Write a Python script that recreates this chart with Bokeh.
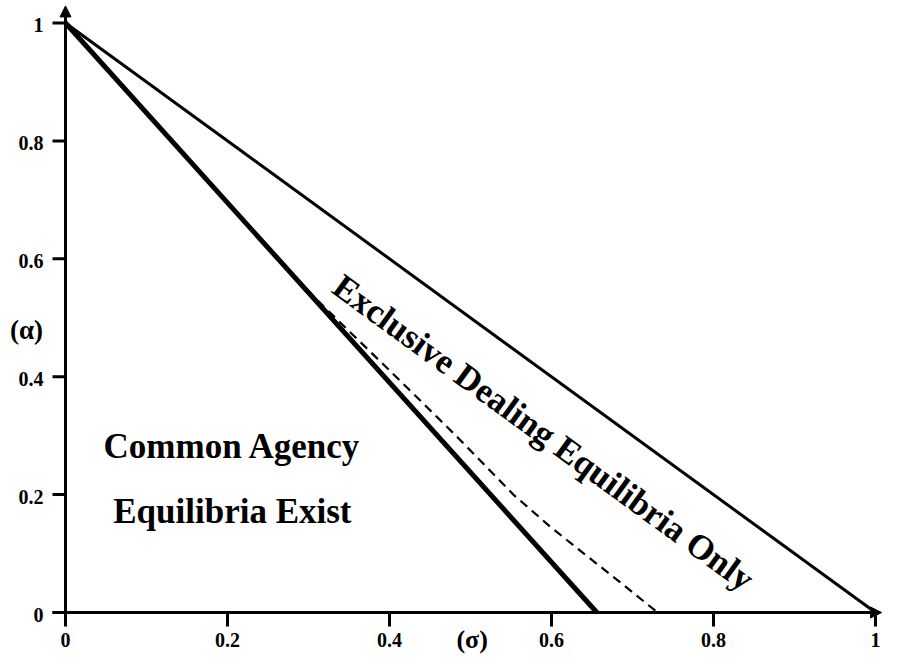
from bokeh.plotting import figure
from bokeh.models import Range1d, Arrow, NormalHead, ColumnDataSource
from bokeh.core.properties import value
from bokeh.embed import file_html
from bokeh.resources import INLINE

# ---- data ----
sigma_ticks = [0, 0.2, 0.4, 0.6, 0.8, 1]
sigma_tick_labels = ["0", "0.2", "0.4", "0.6", "0.8", "1"]
alpha_ticks = [0, 0.2, 0.4, 0.6, 0.8, 1]
alpha_tick_labels = ["0", "0.2", "0.4", "0.6", "0.8", "1"]

# upper boundary (thin line)
upper_sigma = [0, 1]
upper_alpha = [1, 0]
# lower boundary (thick line)
lower_sigma = [0, 0.656]
lower_alpha = [1, 0]
# dashed curve
dashed_alpha = [1, 0.8, 0.6, 0.527, 0.4, 0.3, 0.2, 0.146, 0.1, 0.05, 0]
dashed_sigma = [0, 0.131, 0.262, 0.313, 0.408, 0.482, 0.553, 0.598, 0.640, 0.686, 0.731]

FONT = value("Liberation Serif")

XS = 810.0  # px per unit on x
YS = 589.5  # px per unit on y

p = figure(width=883, height=655,
           x_range=Range1d(-0.08025, 1.00988), y_range=Range1d(-0.0729, 1.0382),
           output_backend="svg", toolbar_location=None, min_border=0,
           x_axis_type=None, y_axis_type=None, outline_line_color=None,
           background_fill_color="white", border_fill_color="white")

# curves
p.line(upper_sigma, upper_alpha, line_color="black", line_width=3)
p.line(lower_sigma, lower_alpha, line_color="black", line_width=5)
p.line(dashed_sigma, dashed_alpha, line_color="black", line_width=2.2, line_dash="9 6")

# axes (drawn manually)
tick_len_x = 14 / YS
tick_len_y = 13 / XS
p.segment(x0=sigma_ticks, y0=[0] * len(sigma_ticks), x1=sigma_ticks,
          y1=[-tick_len_x] * len(sigma_ticks), line_color="black", line_width=3)
p.segment(x0=[0] * len(alpha_ticks), y0=alpha_ticks, x1=[-tick_len_y] * len(alpha_ticks),
          y1=alpha_ticks, line_color="black", line_width=3)

p.add_layout(Arrow(x_start=0, y_start=0, x_end=0, y_end=1.029,
                   line_color="black", line_width=3,
                   end=NormalHead(size=11, fill_color="black", line_color="black", line_width=1)))
p.add_layout(Arrow(x_start=-tick_len_y, y_start=0, x_end=1.0075, y_end=0,
                   line_color="black", line_width=3,
                   end=NormalHead(size=11, fill_color="black", line_color="black", line_width=1)))

# tick labels
xs = ColumnDataSource(dict(x=sigma_ticks, y=[0] * len(sigma_ticks), t=sigma_tick_labels))
p.text(x="x", y="y", text="t", source=xs, text_font=FONT, text_font_style="bold",
       text_font_size="20px", text_align="center", text_baseline="middle",
       y_offset=27, text_color="black")
ys = ColumnDataSource(dict(x=[0] * len(alpha_ticks), y=alpha_ticks, t=alpha_tick_labels))
p.text(x="x", y="y", text="t", source=ys, text_font=FONT, text_font_style="bold",
       text_font_size="20px", text_align="right", text_baseline="middle",
       x_offset=-22, y_offset=2, text_color="black")

# axis titles
p.text(x=[0], y=[0.48], text=["(\u03b1)"], text_font=FONT, text_font_style="bold",
       text_font_size="27px", text_align="center", text_baseline="middle",
       x_offset=-39, text_color="black")
p.text(x=[0.502], y=[0], text=["(\u03c3)"], text_font=FONT, text_font_style="bold",
       text_font_size="26px", text_align="center", text_baseline="middle",
       y_offset=27, text_color="black")

# region labels
p.text(x=[0.206, 0.206], y=[0.282, 0.172], text=["Common Agency", "Equilibria Exist"],
       text_font=FONT, text_font_style="bold", text_font_size="35px",
       text_align="center", text_baseline="middle", text_color="black")
p.text(x=[0.590], y=[0.305], text=["Exclusive Dealing Equilibria Only"],
       angle=-0.629, text_font=FONT, text_font_style="bold", text_font_size="35px",
       text_align="center", text_baseline="middle", text_color="black")

open("out.html", "w").write(file_html(p, INLINE))
